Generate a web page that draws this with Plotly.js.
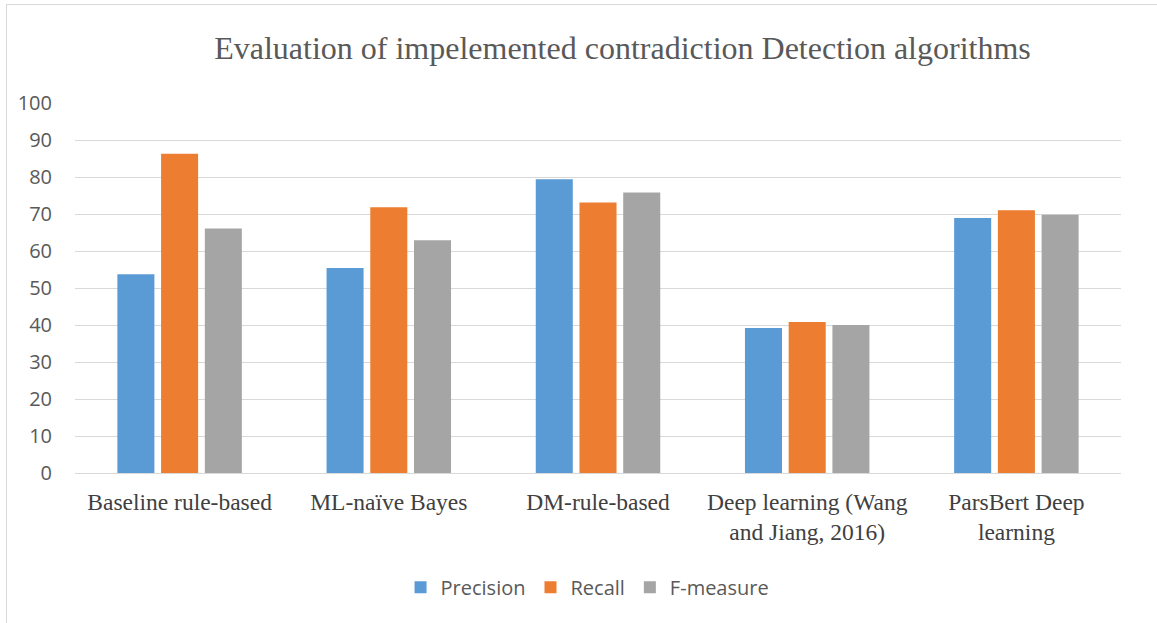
<!DOCTYPE html>
<html><head><meta charset="utf-8">
<script src="https://cdn.plot.ly/plotly-3.0.1.min.js"></script>
<style>
html,body{margin:0;padding:0;background:#fff;}
#wrap{position:absolute;left:6px;top:4px;width:1151px;height:619px;border-left:1px solid #d9d9d9;border-top:1px solid #d9d9d9;box-sizing:border-box;}
#chart{position:absolute;left:0;top:0;width:1157px;height:623px;}
</style></head>
<body>
<div id="wrap"></div>
<div id="chart"></div>
<script>
const categories = ["Baseline rule-based","ML-naïve Bayes","DM-rule-based","Deep learning (Wang<br>and Jiang, 2016)","ParsBert Deep<br>learning"];
const precision = [53.7, 55.4, 79.4, 39.2, 68.9];
const recall = [86.3, 71.8, 73.1, 40.8, 71.0];
const fmeasure = [66.1, 62.9, 75.8, 40.0, 69.8];
const yTicks = [0,10,20,30,40,50,60,70,80,90,100];

const traces = [
  {type:'bar', name:'Precision', x:categories, y:precision, marker:{color:'#5b9bd5'}},
  {type:'bar', name:'Recall', x:categories, y:recall, marker:{color:'#ed7d31'}},
  {type:'bar', name:'F-measure', x:categories, y:fmeasure, marker:{color:'#a5a5a5'}}
];
const layout = {
  width:1157, height:623,
  paper_bgcolor:'rgba(0,0,0,0)', plot_bgcolor:'rgba(0,0,0,0)',
  margin:{l:75, r:36, t:103, b:149.5},
  barmode:'group', bargap:0.373, bargroupgap:0.153,
  title:{text:'Evaluation of impelemented contradiction Detection algorithms', x:0.538, xanchor:'center', y:0.923, yanchor:'middle',
    font:{family:'Liberation Serif, Times New Roman, serif', size:32, color:'#595959'}},
  xaxis:{tickfont:{family:'Liberation Serif, Times New Roman, serif', size:23.5, color:'#404040'}, showgrid:false, showline:false, ticks:'', ticklabelstandoff:12},
  yaxis:{range:[0,100], tickvals:yTicks, ticktext:yTicks.map(String), gridcolor:'#d9d9d9', gridwidth:1, zeroline:true, zerolinecolor:'#d9d9d9', zerolinewidth:1,
    tickfont:{family:'Open Sans, Liberation Sans, sans-serif', size:20, color:'#595959'}, ticklabelstandoff:22, showline:false, fixedrange:true},
  showlegend:true,
  legend:{orientation:'h', x:0.49, xanchor:'center', y:-0.309, yanchor:'middle', font:{family:'Open Sans, Liberation Sans, sans-serif', size:20, color:'#595959'}, itemwidth:30, traceorder:'normal'},
  hovermode:false
};
Plotly.newPlot('chart', traces, layout, {displayModeBar:false, staticPlot:true});
</script>
</body></html>
